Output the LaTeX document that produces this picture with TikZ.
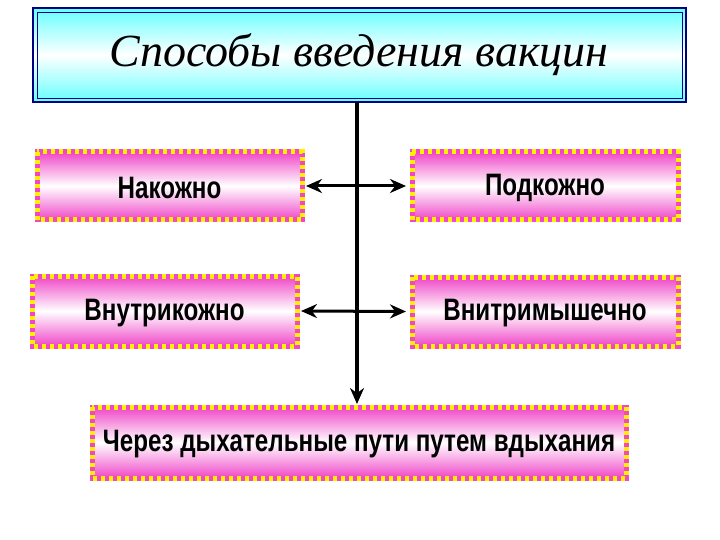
\documentclass[tikz,border=0pt]{standalone}
\usepackage{fontspec}
\setmainfont{Liberation Sans}
\newfontfamily\titlefont{Liberation Serif}
\usetikzlibrary{arrows.meta}
\definecolor{mag}{RGB}{240,70,200}
\definecolor{yel}{RGB}{255,240,0}
\tikzset{
 border/.style={draw=mag,line width=5pt},
 dotted border/.style={draw=yel,line width=5pt,dash pattern=on 4pt off 4pt},
 conn/.style={line width=4pt,-{Stealth[length=16pt,width=14pt]}},
 dconn/.style={line width=3pt,{Stealth[length=16pt,width=14pt]}-{Stealth[length=16pt,width=14pt]}}
}
\newcommand{\pbox}[6]{% name x1 y1 x2 y2 text
 \shade[top color=mag,bottom color=mag,middle color=white] (#2,#3) rectangle (#4,#5);
 \draw[border] (#2,#3) rectangle (#4,#5);
 \draw[dotted border] (#2,#3) rectangle (#4,#5);
 \node[font=\bfseries\fontsize{31}{34}\selectfont,xscale=0.78] (#1) at ({(#2+#4)/2},{(#3+#5)/2+2}) {#6};
 \coordinate (#1L) at (#2,{(#3+#5)/2});
 \coordinate (#1R) at (#4,{(#3+#5)/2});
}
\begin{document}
\begin{tikzpicture}[x=1pt,y=-1pt]
\useasboundingbox (0,0) rectangle (720,540);
\shade[top color=cyan!60!white,bottom color=cyan!60!white,middle color=white] (33,8) rectangle (686,102);
\draw[draw=blue!50!black,line width=2pt] (33,8) rectangle (686,102);
\draw[draw=blue!60!black,line width=0.8pt] (37,12) rectangle (682,98);
\node[font=\titlefont\itshape\fontsize{46}{50}\selectfont] (title) at (359,55) {Способы введения вакцин};
\coordinate (top) at (357,102);
\coordinate (bot) at (357,404);
\pbox{a}{37}{152}{302}{220}{Накожно}
\pbox{b}{412}{152}{678}{220}{Подкожно}
\pbox{c}{32}{276}{297}{346}{Внутрикожно}
\pbox{d}{412}{277}{678}{346}{Внитримышечно}
\pbox{e}{92}{407}{626}{478}{Через дыхательные пути путем вдыхания}
\draw[conn] (top) -- (bot);
\draw[dconn] ([xshift=4pt]aR) -- ([xshift=-6pt]bL);
\draw[dconn] ([xshift=4pt]cR) -- ([xshift=-6pt]dL);
\end{tikzpicture}
\end{document}
